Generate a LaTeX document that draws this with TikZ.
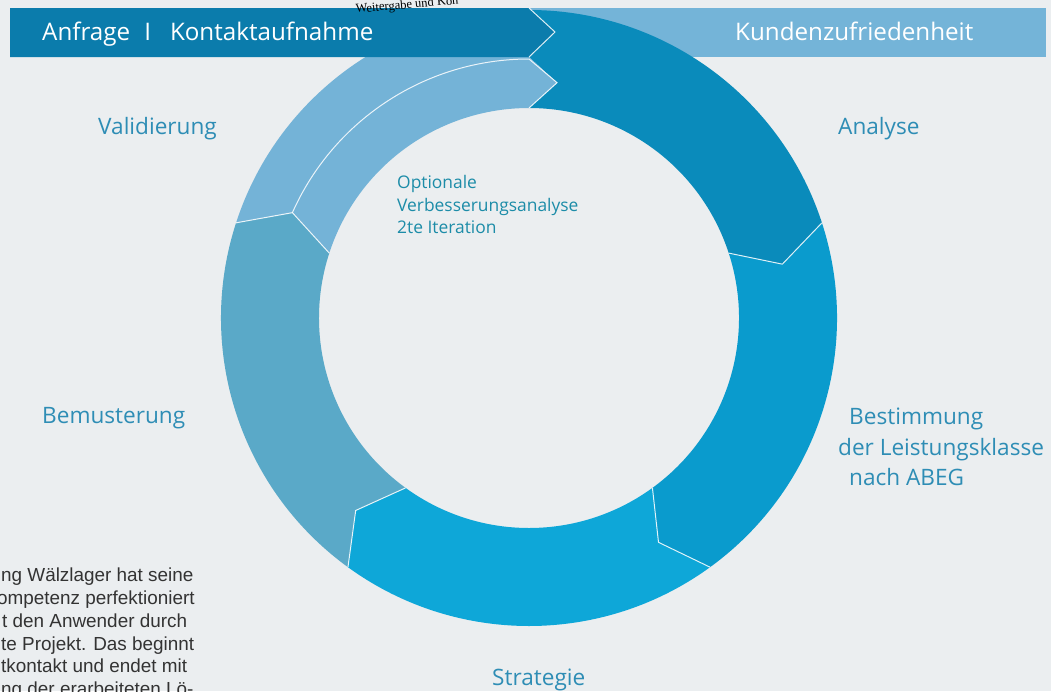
\documentclass[tikz,border=0pt]{standalone}
\usepackage{fontspec}
\setmainfont{Open Sans}
\newfontfamily\copyfont{Liberation Sans}
\newfontfamily\notefont{Liberation Serif}
\usetikzlibrary{calc}

\definecolor{paper}{HTML}{EBEEF0}
\definecolor{barDark}{HTML}{0B7CAC}
\definecolor{barLight}{HTML}{74B4D8}
\definecolor{segAna}{HTML}{0A8BBB}
\definecolor{segBest}{HTML}{0A9BCD}
\definecolor{segStrat}{HTML}{0EA7D8}
\definecolor{segBem}{HTML}{5AA9C8}
\definecolor{segVal}{HTML}{74B3D7}
\definecolor{labelBlue}{HTML}{2E8DB5}
\definecolor{noteTeal}{HTML}{1C8CA8}
\definecolor{copyGray}{HTML}{333333}

\tikzset{
  seam/.style={draw=white, line width=1pt, opacity=0.85},
  bartext/.style={text=white, font=\fontsize{24.2}{28}\selectfont, anchor=base west, inner sep=0pt},
  steplabel/.style={text=labelBlue, font=\fontsize{22.6}{27}\selectfont, anchor=base west, inner sep=0pt},
  notetext/.style={text=noteTeal, font=\fontsize{17.4}{23}\selectfont, anchor=base west, inner sep=0pt},
  copytext/.style={text=copyGray, font=\copyfont\fontsize{18.9}{22.7}\selectfont, anchor=base west, inner sep=0pt},
}

% one ring sector from angle #1 to #2 (clockwise on screen), notch at the
% start and arrow tip at the end
\newcommand\ringpart[3]{%
  \fill[#3] (#1:308) arc[start angle=#1, end angle=#2, radius=308]
    -- ({#2+6}:259) -- (#2:210)
    arc[start angle=#2, end angle=#1, radius=210]
    -- ({#1+6}:259) -- cycle;}

\begin{document}
\begin{tikzpicture}[x=1pt,y=-1pt]
\useasboundingbox (0,0) rectangle (1051,691);
\clip (0,0) rectangle (1051,691);
\fill[paper] (0,0) rectangle (1051,691);

% right header bar, behind the ring
\fill[barLight] (500,8) rectangle (1046,57);

\begin{scope}[shift={(529,318)}]
  \ringpart{342}{414}{segBest}
  \ringpart{54}{126}{segStrat}
  \ringpart{126}{198}{segBem}
  % Analyse: two notches at the top
  \fill[segAna] (270:308) arc[start angle=270, end angle=342, radius=308]
    -- (348:259) -- (342:210)
    arc[start angle=342, end angle=270, radius=210]
    -- (276.8:237) -- (270:261) -- (275.2:287) -- cycle;
  % Validierung: outer band runs under the header, inner band ends in a tip
  \fill[segVal] (198:308) arc[start angle=198, end angle=270, radius=308]
    -- (270:261) -- (276.8:237) -- (270:210)
    arc[start angle=270, end angle=198, radius=210]
    -- (204:259) -- cycle;
  % seams
  \foreach \b in {342,414,126} \draw[seam] (\b:308) -- ({\b+6}:259) -- (\b:210);
  \draw[seam] (198:308) -- (204:259) -- (198:210);
  \draw[seam] (204:259) arc[start angle=204, end angle=270, radius=259]
    -- (276.8:237) -- (270:210);
\end{scope}

% left header bar with arrow tip
\fill[barDark] (10,8) -- (529,8) -- (555,32) -- (529,57) -- (10,57) -- cycle;
\draw[seam] (529,8) -- (555,32) -- (529,57);

% header texts
\node[bartext] (hdrLeft) at (42,40) {Anfrage\hspace{14pt}I\hspace{19pt}Kontaktaufnahme};
\node[bartext] (hdrRight) at (735,40) {Kundenzufriedenheit};

% running text at the top edge
\node[rotate=5, anchor=base west, inner sep=0pt, text=black,
      font=\notefont\fontsize{12.5}{14}\selectfont] (runText) at (356,13) {Weitergabe und Kon};

% step labels
\node[steplabel] (lblVal) at (98,134) {Validierung};
\node[steplabel] (lblAna) at (838,134) {Analyse};
\node[steplabel] (lblBem) at (42,423) {Bemusterung};
\node[steplabel] (lblBest1) at (849,424) {Bestimmung};
\node[steplabel] (lblBest2) at (838,455) {der Leistungsklasse};
\node[steplabel] (lblBest3) at (849,485) {nach ABEG};
\node[steplabel] (lblStrat) at (492,685) {Strategie};

% note inside the ring
\node[notetext] (note1) at (397,188) {Optionale};
\node[notetext] (note2) at (397,211) {Verbesserungsanalyse};
\node[notetext] (note3) at (397,233) {2te Iteration};

% body copy, cut at the left edge
\node[copytext] (copy1) at (1,581) {ng Wälzlager hat seine};
\node[copytext] (copy2) at (-3,604) {ompetenz perfektioniert};
\node[copytext] (copy3) at (2,627) {t den Anwender durch};
\node[copytext] (copy4) at (1,650) {te Projekt. Das beginnt};
\node[copytext] (copy5) at (1,672) {tkontakt und endet mit};
\node[copytext] (copy6) at (1,695) {ng der erarbeiteten Lö-};
\end{tikzpicture}
\end{document}
